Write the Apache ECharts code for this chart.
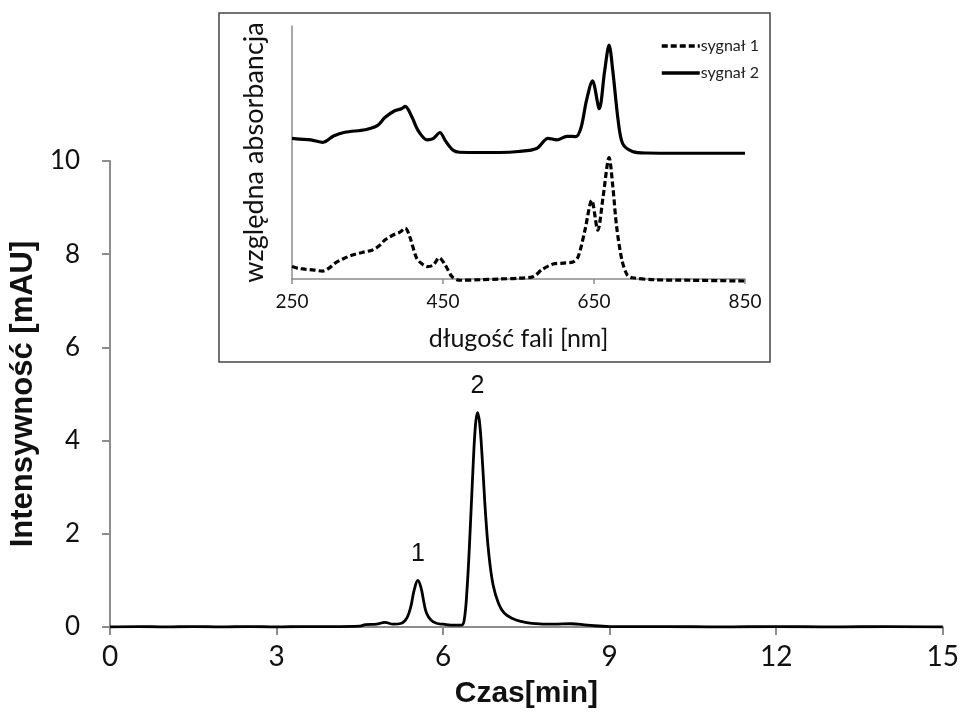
<!DOCTYPE html>
<html>
<head>
<meta charset="utf-8">
<script src="https://cdn.jsdelivr.net/npm/echarts@6/dist/echarts.min.js"></script>
<style>
  html, body { margin: 0; padding: 0; background: #fff; }
  #chart { width: 962px; height: 718px; }
</style>
</head>
<body>
<div id="chart"></div>
<script>
// chromatogram: [czas (min), intensywnosc (mAU)]
var chromatogram = [
  [0, 0], [0.5, 0.01], [1, 0], [1.5, 0.01], [2, 0], [2.5, 0.01], [3, 0], [3.5, 0.01],
  [4, 0.01], [4.5, 0.02], [4.6, 0.05], [4.8, 0.06], [4.95, 0.1], [5.1, 0.06], [5.25, 0.08],
  [5.35, 0.2], [5.42, 0.45], [5.48, 0.8], [5.545, 1.0], [5.6, 0.85], [5.65, 0.55], [5.7, 0.3],
  [5.78, 0.15], [5.88, 0.08], [6.0, 0.06], [6.2, 0.04], [6.33, 0.04], [6.38, 0.15], [6.43, 0.8],
  [6.48, 1.9], [6.53, 3.2], [6.58, 4.3], [6.62, 4.6], [6.66, 4.35], [6.71, 3.5], [6.76, 2.5],
  [6.82, 1.6], [6.9, 0.9], [7.0, 0.5], [7.1, 0.3], [7.25, 0.18], [7.4, 0.12], [7.6, 0.08],
  [8, 0.06], [8.3, 0.07], [8.6, 0.04], [9, 0.01], [10, 0.01], [11, 0], [12, 0.01], [13, 0],
  [14, 0.01], [15, 0]
];
var peakLabels = [
  { name: '1', coord: [5.545, 1.0] },
  { name: '2', coord: [6.62, 4.6] }
];
var timeTicks = { min: 0, max: 15, interval: 3 };
var intensityTicks = { min: 0, max: 10, interval: 2 };

// inset spectra: [dlugosc fali (nm), wzgledna absorbancja]
var sygnal1 = [
  [250, 4.9], [258, 4.2], [267, 3.9], [280, 3.5], [291, 3.1], [300, 4.5], [307, 6.3], [318, 8],
  [329, 9.4], [343, 10.5], [356, 11.4], [365, 13], [373, 15.4], [386, 17.7], [393, 18.5],
  [400, 20.1], [406, 16.7], [415, 8.3], [422, 6], [429, 4.9], [437, 5.5], [445, 8.4], [453, 5.5],
  [462, 0.9], [472, -0.5], [500, -0.3], [525, 0], [550, 0.3], [569, 0.9], [582, 3.9], [596, 5.9],
  [610, 6.3], [622, 6.7], [629, 8.8], [638, 19.3], [647, 31.1], [655, 19.3], [662, 32.4],
  [670, 48], [675, 36.3], [680, 20.6], [687, 7.5], [694, 1.6], [701, 0.5], [730, -0.3],
  [780, -0.5], [850, -0.8]
];
var sygnal2 = [
  [250, 55.6], [260, 55.3], [275, 55], [291, 54], [305, 56.5], [320, 58], [347, 59], [363, 60.6],
  [373, 63.8], [386, 66.5], [395, 67.3], [400, 68.2], [409, 63.9], [417, 58.7], [429, 55],
  [437, 55.5], [446, 57.9], [453, 54.7], [463, 51], [472, 50.1], [500, 50], [525, 50],
  [550, 50.4], [574, 51.6], [589, 55.6], [601, 55], [614, 56.4], [626, 56.3], [633, 60],
  [640, 70.5], [648, 78.3], [657, 67.3], [664, 82], [670, 92.5], [675, 82], [682, 62.6],
  [688, 53.5], [701, 50.4], [720, 49.8], [780, 49.7], [850, 49.7]
];
var waveTicks = { min: 250, max: 850, interval: 200 };

var axisGray = '#8c8c8c';
var labelFont = "Lato, 'Open Sans', sans-serif";
var boldFont = "'Liberation Sans', Arial, sans-serif";

var myChart = echarts.init(document.getElementById('chart'));

option = {
    backgroundColor: '#fff',
    animation: false,
    graphic: [
        {
            type: 'rect',
            shape: { x: 219, y: 13, width: 551, height: 349 },
            style: { fill: 'none', stroke: '#444', lineWidth: 1.5 }
        }
    ],
    legend: {
        orient: 'vertical',
        left: 655,
        top: 33,
        itemWidth: 38,
        itemHeight: 12,
        itemGap: 11,
        data: ['sygnał 1', 'sygnał 2'],
        itemStyle: { opacity: 0 },
        lineStyle: { width: 3.5 },
        textStyle: { fontFamily: labelFont, fontSize: 16, color: '#222', padding: [0, 0, 0, -4] }
    },
    grid: [
        { left: 108, right: 19, top: 161, bottom: 91 },
        { left: 292, right: 217, top: 26, bottom: 439 }
    ],
    xAxis: [
        {
            gridIndex: 0,
            type: 'value',
            min: timeTicks.min, max: timeTicks.max, interval: timeTicks.interval,
            name: 'Czas[min]',
            nameLocation: 'middle',
            nameGap: 52,
            nameTextStyle: { fontFamily: boldFont, fontWeight: 'bold', fontSize: 30, color: '#111' },
            axisLine: { lineStyle: { color: axisGray, width: 2 } },
            axisTick: { length: 8, lineStyle: { color: axisGray, width: 2 } },
            axisLabel: { fontFamily: labelFont, fontSize: 28, color: '#111', margin: 16 },
            splitLine: { show: false }
        },
        {
            gridIndex: 1,
            type: 'value',
            min: waveTicks.min, max: waveTicks.max, interval: waveTicks.interval,
            name: 'długość fali [nm]',
            nameLocation: 'middle',
            nameGap: 47,
            nameTextStyle: { fontFamily: labelFont, fontSize: 25, color: '#111' },
            axisLine: { lineStyle: { color: axisGray, width: 1.5 } },
            axisTick: { length: 5, lineStyle: { color: axisGray, width: 1.5 } },
            axisLabel: { fontFamily: labelFont, fontSize: 19, color: '#111', margin: 13 },
            splitLine: { show: false }
        }
    ],
    yAxis: [
        {
            gridIndex: 0,
            type: 'value',
            min: intensityTicks.min, max: intensityTicks.max, interval: intensityTicks.interval,
            name: 'Intensywność [mAU]',
            nameLocation: 'middle',
            nameGap: 58,
            nameTextStyle: { fontFamily: boldFont, fontWeight: 'bold', fontSize: 31, color: '#111' },
            axisLine: { show: true, lineStyle: { color: axisGray, width: 2 } },
            axisTick: { show: true, length: 8, lineStyle: { color: axisGray, width: 2 } },
            axisLabel: { fontFamily: labelFont, fontSize: 26, color: '#111', margin: 30 },
            splitLine: { show: false }
        },
        {
            gridIndex: 1,
            type: 'value',
            min: 0, max: 100,
            name: 'względna absorbancja',
            nameLocation: 'middle',
            nameGap: 24,
            nameTextStyle: { fontFamily: labelFont, fontSize: 27, color: '#111' },
            axisLine: { show: true, lineStyle: { color: axisGray, width: 1.5 } },
            axisTick: { show: false },
            axisLabel: { show: false },
            splitLine: { show: false }
        }
    ],
    series: [
        {
            name: 'chromatogram',
            type: 'line',
            xAxisIndex: 0,
            yAxisIndex: 0,
            data: chromatogram,
            smooth: 0.4,
            symbol: 'none',
            lineStyle: { color: '#000', width: 2.8 },
            markPoint: {
                symbol: 'circle',
                symbolSize: 0,
                label: {
                    show: true,
                    position: 'top',
                    distance: 14,
                    formatter: '{b}',
                    fontFamily: boldFont,
                    fontSize: 25,
                    color: '#111'
                },
                data: peakLabels
            }
        },
        {
            name: 'sygnał 1',
            type: 'line',
            xAxisIndex: 1,
            yAxisIndex: 1,
            data: sygnal1,
            smooth: 0.3,
            clip: false,
            symbol: 'none',
            itemStyle: { color: '#000' },
            lineStyle: { color: '#000', width: 3.2, type: [6, 3] }
        },
        {
            name: 'sygnał 2',
            type: 'line',
            xAxisIndex: 1,
            yAxisIndex: 1,
            data: sygnal2,
            smooth: 0.3,
            clip: false,
            symbol: 'none',
            itemStyle: { color: '#000' },
            lineStyle: { color: '#000', width: 3.2 }
        }
    ]
};

myChart.setOption(option);
</script>
</body>
</html>
